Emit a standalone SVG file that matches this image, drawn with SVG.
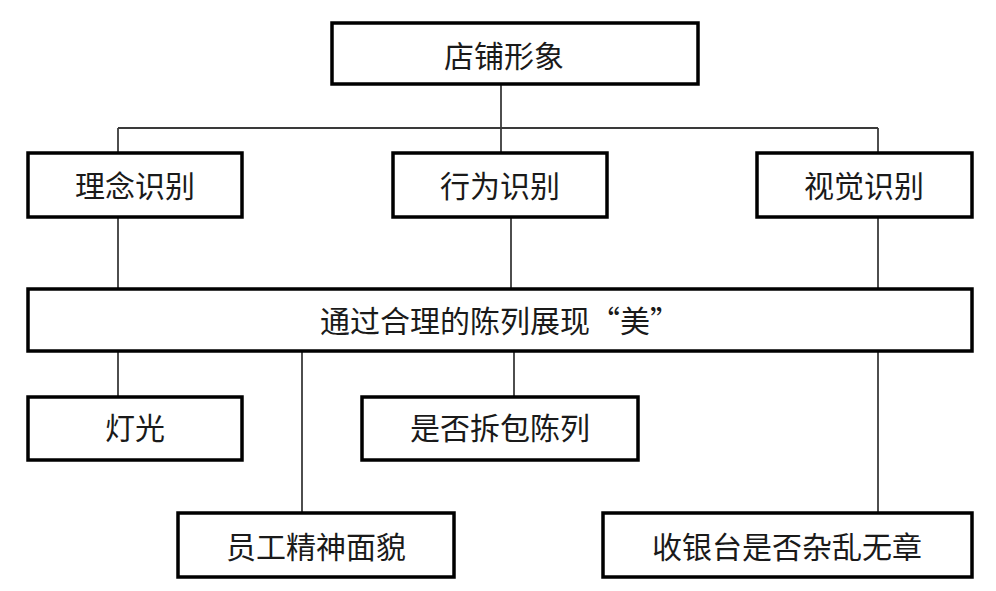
<svg xmlns="http://www.w3.org/2000/svg" width="996" height="591" viewBox="0 0 996 591">
  <style>
    .box { fill: #ffffff; stroke: #000000; stroke-width: 3.5; }
    .lbl { font-family: "Noto Sans CJK SC", "Noto Sans CJK TC", sans-serif; font-size: 30px; fill: #1a1a1a; text-anchor: middle; }
    .conn { stroke: #3a3a3a; stroke-width: 1.8; fill: none; }
  </style>
  <rect x="0" y="0" width="996" height="591" fill="#ffffff"/>
  <g id="connectors">
    <line class="conn" x1="501" y1="84" x2="501" y2="128"/>
    <line class="conn" x1="118" y1="128" x2="878" y2="128"/>
    <line class="conn" x1="118" y1="128" x2="118" y2="153"/>
    <line class="conn" x1="501" y1="128" x2="501" y2="153"/>
    <line class="conn" x1="878" y1="128" x2="878" y2="153"/>
    <line class="conn" x1="118" y1="217" x2="118" y2="289"/>
    <line class="conn" x1="511" y1="217" x2="511" y2="289"/>
    <line class="conn" x1="878" y1="217" x2="878" y2="289"/>
    <line class="conn" x1="118" y1="351" x2="118" y2="397"/>
    <line class="conn" x1="302" y1="351" x2="302" y2="513"/>
    <line class="conn" x1="514" y1="351" x2="514" y2="397"/>
    <line class="conn" x1="878" y1="351" x2="878" y2="513"/>
  </g>
  <g id="n-top">
    <rect class="box" x="332" y="23" width="366" height="61"/>
    <text class="lbl" x="504" y="67">店铺形象</text>
  </g>
  <g id="n-linian">
    <rect class="box" x="28" y="153" width="214" height="64"/>
    <text class="lbl" x="135" y="197">理念识别</text>
  </g>
  <g id="n-xingwei">
    <rect class="box" x="393" y="153" width="214" height="64"/>
    <text class="lbl" x="500" y="197">行为识别</text>
  </g>
  <g id="n-shijue">
    <rect class="box" x="757" y="153" width="215" height="64"/>
    <text class="lbl" x="864" y="197">视觉识别</text>
  </g>
  <g id="n-chenlie">
    <rect class="box" x="28" y="289" width="944" height="62"/>
    <text class="lbl" x="500" y="332">通过合理的陈列展现“美”</text>
  </g>
  <g id="n-dengguang">
    <rect class="box" x="28" y="397" width="214" height="63"/>
    <text class="lbl" x="135" y="439">灯光</text>
  </g>
  <g id="n-chaibao">
    <rect class="box" x="362" y="397" width="276" height="63"/>
    <text class="lbl" x="500" y="439">是否拆包陈列</text>
  </g>
  <g id="n-yuangong">
    <rect class="box" x="178" y="513" width="276" height="64"/>
    <text class="lbl" x="316" y="558">员工精神面貌</text>
  </g>
  <g id="n-shouyin">
    <rect class="box" x="603" y="513" width="369" height="64"/>
    <text class="lbl" x="787" y="558">收银台是否杂乱无章</text>
  </g>
</svg>
